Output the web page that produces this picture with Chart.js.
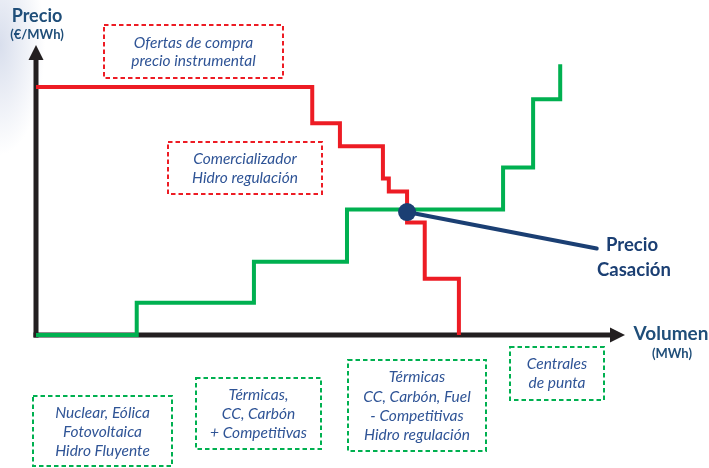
<!DOCTYPE html>
<html><head><meta charset="utf-8">
<script src="https://cdn.jsdelivr.net/npm/chart.js@4"></script>
<style>
html,body{margin:0;padding:0;background:#fff;}
#wrap{position:relative;width:709px;height:468px;
background:radial-gradient(ellipse 45px 110px at 0px 45px, rgba(185,196,222,0.55), rgba(255,255,255,0));}
</style></head><body><div id="wrap"><canvas id="c"></canvas></div>
<script>
// Demand (red): step boundaries on the volume axis and price level of each step
const demandSteps  = [0, 46.9, 51.6, 58.9, 59.9, 63.0, 66.0, 71.8];
const demandPrices = [85.5, 73.0, 65.1, 54.0, 49.5, 38.8, 19.4, 0];
// Supply (green)
const supplySteps  = [0, 17.1, 37.0, 52.8, 79.3, 84.4, 89.0];
const supplyPrices = [0, 11.1, 25.3, 43.3, 57.8, 81.3, 93.4];
// Clearing price point and its callout end
const clearingVolume = [63.0, 95.2];
const clearingPrice  = [42.4, 29.8];
// Texts
const yAxisTitle = ['Precio', '(€/MWh)'];
const xAxisTitle = ['Volumen', '(MWh)'];
const clearingLabel = ['Precio', 'Casación'];
const demandBoxes = [
  ['Ofertas de compra', 'precio instrumental'],
  ['Comercializador', 'Hidro regulación']
];
const supplyBoxes = [
  ['Nuclear, Eólica', 'Fotovoltaica', 'Hidro Fluyente'],
  ['Térmicas,', 'CC, Carbón', '+ Competitivas'],
  ['Térmicas', 'CC, Carbón, Fuel', '- Competitivas', 'Hidro regulación'],
  ['Centrales', 'de punta']
];

function stepPoints(xs, ys) {
  const pts = [];
  for (let i = 0; i < xs.length; i++) {
    pts.push({x: xs[i], y: ys[i]});
    if (i < xs.length - 1) pts.push({x: xs[i + 1], y: ys[i]});
  }
  return pts;
}

const RED = '#ed1c24', GREEN = '#00b050', NAVY = '#1b3f73', TXT = '#2f5496', AX = '#231f20';
const FONT = 'Lato, "Open Sans", sans-serif';

const axesPlugin = {
  id: 'axes',
  beforeDatasetsDraw(chart) {
    const {ctx, chartArea: a, scales: {x, y}} = chart;
    const x0 = x.getPixelForValue(0), y0 = y.getPixelForValue(0);
    ctx.save();
    ctx.strokeStyle = AX; ctx.fillStyle = AX; ctx.lineWidth = 5; ctx.lineCap = 'butt';
    ctx.beginPath(); ctx.moveTo(x0 - 2.5, y0); ctx.lineTo(a.right - 12, y0); ctx.stroke();
    ctx.beginPath(); ctx.moveTo(x0, y0 + 2.5); ctx.lineTo(x0, a.top + 12); ctx.stroke();
    ctx.beginPath(); ctx.moveTo(a.right, y0); ctx.lineTo(a.right - 15, y0 - 7.5); ctx.lineTo(a.right - 15, y0 + 7.5); ctx.closePath(); ctx.fill();
    ctx.beginPath(); ctx.moveTo(x0, a.top); ctx.lineTo(x0 - 7.5, a.top + 15); ctx.lineTo(x0 + 7.5, a.top + 15); ctx.closePath(); ctx.fill();
    ctx.restore();
  }
};

function dashedBox(ctx, color, l, t, r, b, lines, ys, size) {
  ctx.save();
  ctx.strokeStyle = color; ctx.lineWidth = 2; ctx.setLineDash([4.5, 3]);
  ctx.strokeRect(l, t, r - l, b - t);
  ctx.setLineDash([]);
  ctx.fillStyle = TXT; ctx.font = 'italic ' + size + 'px ' + FONT;
  ctx.textAlign = 'center'; ctx.textBaseline = 'middle';
  lines.forEach((s, i) => ctx.fillText(s, (l + r) / 2, ys[i]));
  ctx.restore();
}

const textPlugin = {
  id: 'texts',
  afterDraw(chart) {
    const ctx = chart.ctx;
    ctx.save();
    ctx.fillStyle = '#1f4e79'; ctx.textAlign = 'center'; ctx.textBaseline = 'middle';
    ctx.font = 'bold 18px ' + FONT; ctx.fillText(yAxisTitle[0], 37, 16);
    ctx.font = 'bold 13px ' + FONT; ctx.fillText(yAxisTitle[1], 37, 35);
    ctx.font = 'bold 19px ' + FONT; ctx.fillText(xAxisTitle[0], 671, 334);
    ctx.font = 'bold 13px ' + FONT; ctx.fillText(xAxisTitle[1], 672, 354);
    ctx.fillStyle = NAVY;
    ctx.font = 'bold 18.5px ' + FONT; ctx.fillText(clearingLabel[0], 632, 245);
    ctx.fillText(clearingLabel[1], 634, 270);
    ctx.restore();
    const fs = 15.5;
    dashedBox(ctx, RED, 104, 25, 283, 78, demandBoxes[0], [43, 61], fs);
    dashedBox(ctx, RED, 168, 142, 322, 194, demandBoxes[1], [159, 178], fs);
    dashedBox(ctx, GREEN, 33, 396, 172, 466, supplyBoxes[0], [413, 432, 451], fs);
    dashedBox(ctx, GREEN, 196, 378, 321, 449, supplyBoxes[1], [395, 414, 433], fs);
    dashedBox(ctx, GREEN, 348, 360, 486, 451, supplyBoxes[2], [377, 397, 416, 435], fs);
    dashedBox(ctx, GREEN, 510, 347, 604, 400, supplyBoxes[3], [364, 383], fs);
  }
};

new Chart(document.getElementById('c'), {
  type: 'line',
  data: {
    datasets: [
      {
        label: 'Precio Casación',
        data: clearingVolume.map((v, i) => ({x: v, y: clearingPrice[i]})),
        borderColor: NAVY, backgroundColor: NAVY, borderWidth: 4,
        pointRadius: [9, 0], pointBorderWidth: 0, pointBackgroundColor: NAVY,
        clip: false, borderCapStyle: 'round'
      },
      {
        label: 'Demanda',
        data: stepPoints(demandSteps, demandPrices),
        borderColor: RED, borderWidth: 4, pointRadius: 0, clip: false,
        borderJoinStyle: 'miter', borderCapStyle: 'butt'
      },
      {
        label: 'Oferta',
        data: stepPoints(supplySteps, supplyPrices),
        borderColor: GREEN, borderWidth: 4, pointRadius: 0, clip: false,
        borderJoinStyle: 'miter', borderCapStyle: 'butt'
      }
    ]
  },
  options: {
    responsive: true, maintainAspectRatio: false, animation: false, events: [],
    layout: {padding: {left: 36, top: 45, right: 84, bottom: 133}},
    plugins: {legend: {display: false}, tooltip: {enabled: false}},
    scales: {
      x: {type: 'linear', min: 0, max: 100, display: false},
      y: {type: 'linear', min: 0, max: 100, display: false}
    }
  },
  plugins: [axesPlugin, textPlugin]
});
</script></body></html>
